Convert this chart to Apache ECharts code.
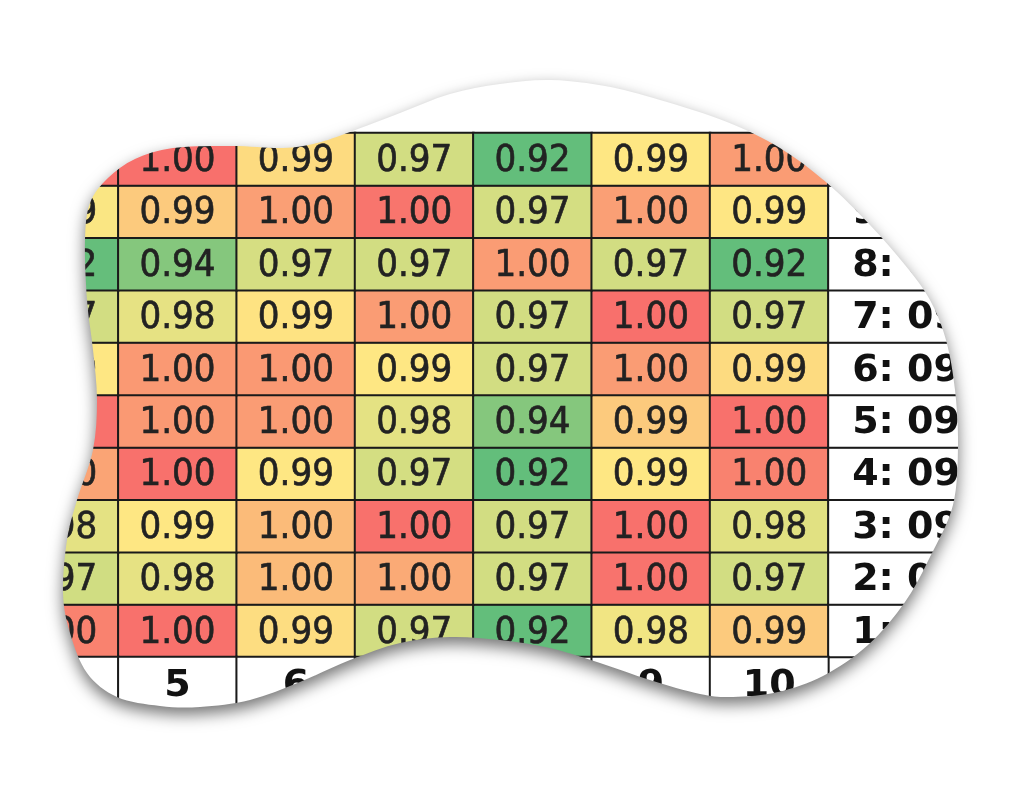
<!DOCTYPE html>
<html>
<head>
<meta charset="utf-8">
<script src="https://cdn.jsdelivr.net/npm/echarts@6/dist/echarts.min.js"></script>
<style>
  html, body { margin: 0; padding: 0; background: #fff; }
  #shadow {
    position: absolute; left: 0; top: 0; width: 1024px; height: 808px;
    filter: drop-shadow(0 7px 8px rgba(0, 0, 0, 0.55));
  }
  #chart { width: 1024px; height: 808px; background: #fff; filter: blur(0.5px); }
</style>
</head>
<body>
<div id="shadow"><div id="chart"></div></div>
<script>
// columns 4..10 of the table, rows 1..10 (1 at the bottom)
const colLabels = ['4', '5', '6', '7', '8', '9', '10']
const rowLabels = ['1', '2', '3', '4', '5', '6', '7', '8', '9', '10']
const rowNames = ['1: 09-01', '2: 09-02', '3: 09-03', '4: 09-04', '5: 09-05',
  '6: 09-06', '7: 09-07', '8: 09-08', '9: 09-09', '10: 09-10']

// one array per row, values for columns 4..10
const row1 = [0.9985, 0.9995, 0.9912, 0.970, 0.920, 0.984, 0.9935]
const row2 = [0.969, 0.979, 0.9952, 0.9962, 0.970, 0.9994, 0.970]
const row3 = [0.978, 0.990, 0.9952, 0.9995, 0.970, 0.9995, 0.977]
const row4 = [0.9965, 0.9995, 0.990, 0.971, 0.920, 0.990, 0.9985]
const row5 = [0.9995, 0.9972, 0.9970, 0.978, 0.940, 0.9935, 0.9995]
const row6 = [0.990, 0.9972, 0.9972, 0.990, 0.970, 0.9970, 0.9915]
const row7 = [0.970, 0.979, 0.9905, 0.997, 0.970, 0.9996, 0.970]
const row8 = [0.921, 0.940, 0.972, 0.970, 0.997, 0.970, 0.920]
const row9 = [0.988, 0.9935, 0.9968, 0.9993, 0.971, 0.9968, 0.9901]
const row10 = [0.9995, 0.9996, 0.9915, 0.970, 0.920, 0.990, 0.997]
const rows = [row1, row2, row3, row4, row5, row6, row7, row8, row9, row10]

// excel-like green / yellow / red scale, stops every 0.005 from 0.92 to 1.00
const scaleColors = ['#63BE7B', '#6CC07C', '#74C27C', '#7DC57D', '#85C77D', '#96CB7E',
  '#A6D07F', '#B4D480', '#C2D881', '#CADB81', '#D2DD82', '#DDE082', '#E8E383',
  '#F3E583', '#FEE783', '#FBBE7A', '#F8696B']

// outline of the torn-paper blob that crops the table
const blob = [[85,240],[90,203],[108,178],[135,159],[173,148],[233,146],[283,148],[317,143],
  [350,132],[400,113],[450,94],[500,84],[550,80],[605,86],[660,100],[727,122],[780,148],
  [827,183],[870,225],[905,265],[930,300],[946,340],[955,390],[958,445],[953,505],[930,557],
  [905,602],[868,645],[823,676],[778,692],[733,697],[700,694],[650,680],[600,663],[550,648],
  [500,640],[450,637],[400,643],[350,660],[300,682],[250,700],[200,707],[160,706],[117,697],
  [87,673],[70,633],[63,593],[67,540],[77,500],[93,450],[97,400],[93,350],[87,300]]

function blobPath(pts) {
  const n = pts.length
  let d = `M ${pts[0][0]} ${pts[0][1]}`
  for (let i = 0; i < n; i++) {
    const p0 = pts[(i - 1 + n) % n], p1 = pts[i], p2 = pts[(i + 1) % n], p3 = pts[(i + 2) % n]
    const c1 = [p1[0] + (p2[0] - p0[0]) / 6, p1[1] + (p2[1] - p0[1]) / 6]
    const c2 = [p2[0] - (p3[0] - p1[0]) / 6, p2[1] - (p3[1] - p1[1]) / 6]
    d += ` C ${c1[0].toFixed(1)} ${c1[1].toFixed(1)} ${c2[0].toFixed(1)} ${c2[1].toFixed(1)} ${p2[0]} ${p2[1]}`
  }
  return d + ' Z'
}

const el = document.getElementById('chart')
el.style.clipPath = `path('${blobPath(blob)}')`

const cellData = []
rows.forEach((vals, r) => vals.forEach((v, c) => cellData.push([c, r, v])))
const nameData = rowLabels.map((_, r) => [0, r, 0])
const headData = colLabels.map((_, c) => [c, 0, 0])

const valueFont = '"DejaVu Sans Condensed", "DejaVu Sans", sans-serif'
const boldFont = '"DejaVu Sans", sans-serif'
const border = { borderColor: '#1a1a1a', borderWidth: 2 }
const hiddenAxis = { show: false }

const chart = echarts.init(el, null, { renderer: 'canvas' })
chart.setOption({
  animation: false,
  grid: [
    { left: -6, top: 133, width: 834.4, height: 524 },
    { left: 828.4, top: 133, width: 220, height: 524 },
    { left: -6, top: 657, width: 834.4, height: 52.4 }
  ],
  xAxis: [
    { type: 'category', gridIndex: 0, data: colLabels, ...hiddenAxis },
    { type: 'category', gridIndex: 1, data: [''], ...hiddenAxis },
    { type: 'category', gridIndex: 2, data: colLabels, ...hiddenAxis }
  ],
  yAxis: [
    { type: 'category', gridIndex: 0, data: rowLabels, ...hiddenAxis },
    { type: 'category', gridIndex: 1, data: rowLabels, ...hiddenAxis },
    { type: 'category', gridIndex: 2, data: [''], ...hiddenAxis }
  ],
  visualMap: [
    { show: false, seriesIndex: 0, dimension: 2, min: 0.92, max: 1, inRange: { color: scaleColors } },
    { show: false, seriesIndex: [1, 2], dimension: 2, min: 0, max: 1, inRange: { color: ['#ffffff', '#ffffff'] } }
  ],
  series: [
    {
      type: 'heatmap',
      xAxisIndex: 0,
      yAxisIndex: 0,
      data: cellData,
      itemStyle: border,
      label: {
        show: true,
        color: '#222',
        textBorderColor: '#222',
        textBorderWidth: 0.6,
        fontFamily: valueFont,
        fontSize: 38,
        offset: [0, 2],
        formatter: (p) => p.value[2].toFixed(2)
      },
      emphasis: { disabled: true }
    },
    {
      type: 'heatmap',
      xAxisIndex: 1,
      yAxisIndex: 1,
      data: nameData,
      itemStyle: border,
      label: {
        show: true,
        position: 'insideLeft',
        distance: 25,
        color: '#111',
        fontFamily: boldFont,
        fontWeight: 'bold',
        fontSize: 38,
        offset: [0, 2],
        formatter: (p) => rowNames[p.value[1]]
      },
      emphasis: { disabled: true }
    },
    {
      type: 'heatmap',
      xAxisIndex: 2,
      yAxisIndex: 2,
      data: headData,
      itemStyle: border,
      label: {
        show: true,
        color: '#111',
        fontFamily: boldFont,
        fontWeight: 'bold',
        fontSize: 38,
        offset: [0, 3],
        formatter: (p) => colLabels[p.value[0]]
      },
      emphasis: { disabled: true }
    }
  ]
})
</script>
</body>
</html>
